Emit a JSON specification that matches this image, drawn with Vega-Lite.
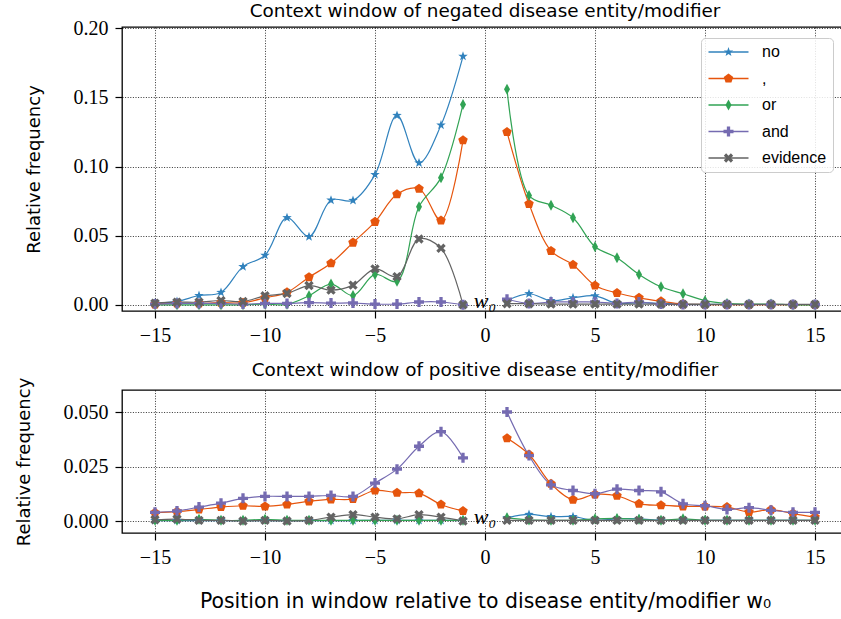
{
  "$schema": "https://vega.github.io/schema/vega-lite/v6.json",
  "padding": {"left": 14, "top": 1, "right": 0, "bottom": 0},
  "background": "white",
  "spacing": 13,
  "resolve": {"legend": {"color": "independent", "shape": "independent", "stroke": "independent"}},
  "config": {
    "view": {"stroke": "black", "strokeWidth": 1.3},
    "axis": {
      "labelFont": "Liberation Serif", "labelFontSize": 20, "labelColor": "black",
      "tickColor": "black", "tickSize": 7, "tickWidth": 1.2, "labelPadding": 7,
      "domain": false, "grid": true, "gridColor": "black", "gridDash": [1, 1.6], "gridWidth": 0.8, "gridOpacity": 1,
      "titleFont": "DejaVu Sans", "titleFontSize": 18, "titleFontWeight": "normal", "titleColor": "black"
    },
    "title": {"font": "DejaVu Sans", "fontSize": 18.4, "fontWeight": "normal", "color": "black", "offset": -1.7}
  },
  "datasets": {
    "neg": [
      {"token": "no", "x": -15, "y": 0.0012}, {"token": "no", "x": -14, "y": 0.0024}, {"token": "no", "x": -13, "y": 0.0067}, {"token": "no", "x": -12, "y": 0.0089}, {"token": "no", "x": -11, "y": 0.0276}, {"token": "no", "x": -10, "y": 0.0358}, {"token": "no", "x": -9, "y": 0.063}, {"token": "no", "x": -8, "y": 0.0493}, {"token": "no", "x": -7, "y": 0.0757}, {"token": "no", "x": -6, "y": 0.0755}, {"token": "no", "x": -5, "y": 0.0942}, {"token": "no", "x": -4, "y": 0.137}, {"token": "no", "x": -3, "y": 0.1026}, {"token": "no", "x": -2, "y": 0.130}, {"token": "no", "x": -1, "y": 0.1798},
      {"token": "no", "x": 1, "y": 0.003}, {"token": "no", "x": 2, "y": 0.008}, {"token": "no", "x": 3, "y": 0.003}, {"token": "no", "x": 4, "y": 0.005}, {"token": "no", "x": 5, "y": 0.0065}, {"token": "no", "x": 6, "y": 0.001}, {"token": "no", "x": 7, "y": 0.0015}, {"token": "no", "x": 8, "y": 0.001}, {"token": "no", "x": 9, "y": 0.0005}, {"token": "no", "x": 10, "y": 0.0003}, {"token": "no", "x": 11, "y": 0.0002}, {"token": "no", "x": 12, "y": 0.0002}, {"token": "no", "x": 13, "y": 0.0002}, {"token": "no", "x": 14, "y": 0.0002}, {"token": "no", "x": 15, "y": 0.0002},
      {"token": ",", "x": -15, "y": 0.0003}, {"token": ",", "x": -14, "y": 0.001}, {"token": ",", "x": -13, "y": 0.001}, {"token": ",", "x": -12, "y": 0.0015}, {"token": ",", "x": -11, "y": 0.0015}, {"token": ",", "x": -10, "y": 0.005}, {"token": ",", "x": -9, "y": 0.009}, {"token": ",", "x": -8, "y": 0.020}, {"token": ",", "x": -7, "y": 0.030}, {"token": ",", "x": -6, "y": 0.045}, {"token": ",", "x": -5, "y": 0.060}, {"token": ",", "x": -4, "y": 0.080}, {"token": ",", "x": -3, "y": 0.084}, {"token": ",", "x": -2, "y": 0.061}, {"token": ",", "x": -1, "y": 0.119},
      {"token": ",", "x": 1, "y": 0.125}, {"token": ",", "x": 2, "y": 0.073}, {"token": ",", "x": 3, "y": 0.039}, {"token": ",", "x": 4, "y": 0.029}, {"token": ",", "x": 5, "y": 0.014}, {"token": ",", "x": 6, "y": 0.0085}, {"token": ",", "x": 7, "y": 0.005}, {"token": ",", "x": 8, "y": 0.0025}, {"token": ",", "x": 9, "y": 0.0005}, {"token": ",", "x": 10, "y": 0.0002}, {"token": ",", "x": 11, "y": 0.0001}, {"token": ",", "x": 12, "y": 0.0001}, {"token": ",", "x": 13, "y": 0.0001}, {"token": ",", "x": 14, "y": 0.0001}, {"token": ",", "x": 15, "y": 0.0001},
      {"token": "or", "x": -15, "y": 0.0}, {"token": "or", "x": -14, "y": 0.0}, {"token": "or", "x": -13, "y": 0.0}, {"token": "or", "x": -12, "y": 0.0}, {"token": "or", "x": -11, "y": 0.0}, {"token": "or", "x": -10, "y": 0.0005}, {"token": "or", "x": -9, "y": 0.0003}, {"token": "or", "x": -8, "y": 0.0065}, {"token": "or", "x": -7, "y": 0.015}, {"token": "or", "x": -6, "y": 0.0067}, {"token": "or", "x": -5, "y": 0.022}, {"token": "or", "x": -4, "y": 0.017}, {"token": "or", "x": -3, "y": 0.071}, {"token": "or", "x": -2, "y": 0.092}, {"token": "or", "x": -1, "y": 0.145},
      {"token": "or", "x": 1, "y": 0.156}, {"token": "or", "x": 2, "y": 0.079}, {"token": "or", "x": 3, "y": 0.072}, {"token": "or", "x": 4, "y": 0.063}, {"token": "or", "x": 5, "y": 0.042}, {"token": "or", "x": 6, "y": 0.034}, {"token": "or", "x": 7, "y": 0.022}, {"token": "or", "x": 8, "y": 0.013}, {"token": "or", "x": 9, "y": 0.008}, {"token": "or", "x": 10, "y": 0.003}, {"token": "or", "x": 11, "y": 0.001}, {"token": "or", "x": 12, "y": 0.0005}, {"token": "or", "x": 13, "y": 0.0005}, {"token": "or", "x": 14, "y": 0.0}, {"token": "or", "x": 15, "y": 0.0},
      {"token": "and", "x": -15, "y": 0.0005}, {"token": "and", "x": -14, "y": 0.001}, {"token": "and", "x": -13, "y": 0.001}, {"token": "and", "x": -12, "y": 0.001}, {"token": "and", "x": -11, "y": 0.0005}, {"token": "and", "x": -10, "y": 0.001}, {"token": "and", "x": -9, "y": 0.001}, {"token": "and", "x": -8, "y": 0.0015}, {"token": "and", "x": -7, "y": 0.0012}, {"token": "and", "x": -6, "y": 0.0013}, {"token": "and", "x": -5, "y": 0.0005}, {"token": "and", "x": -4, "y": 0.0005}, {"token": "and", "x": -3, "y": 0.002}, {"token": "and", "x": -2, "y": 0.002}, {"token": "and", "x": -1, "y": 0.0},
      {"token": "and", "x": 1, "y": 0.004}, {"token": "and", "x": 2, "y": 0.001}, {"token": "and", "x": 3, "y": 0.002}, {"token": "and", "x": 4, "y": 0.002}, {"token": "and", "x": 5, "y": 0.002}, {"token": "and", "x": 6, "y": 0.001}, {"token": "and", "x": 7, "y": 0.002}, {"token": "and", "x": 8, "y": 0.0005}, {"token": "and", "x": 9, "y": 0.0002}, {"token": "and", "x": 10, "y": 0.0002}, {"token": "and", "x": 11, "y": 0.0002}, {"token": "and", "x": 12, "y": 0.0002}, {"token": "and", "x": 13, "y": 0.0002}, {"token": "and", "x": 14, "y": 0.0002}, {"token": "and", "x": 15, "y": 0.0002},
      {"token": "evidence", "x": -15, "y": 0.0012}, {"token": "evidence", "x": -14, "y": 0.0019}, {"token": "evidence", "x": -13, "y": 0.0019}, {"token": "evidence", "x": -12, "y": 0.0031}, {"token": "evidence", "x": -11, "y": 0.0024}, {"token": "evidence", "x": -10, "y": 0.0065}, {"token": "evidence", "x": -9, "y": 0.0082}, {"token": "evidence", "x": -8, "y": 0.0139}, {"token": "evidence", "x": -7, "y": 0.0106}, {"token": "evidence", "x": -6, "y": 0.0142}, {"token": "evidence", "x": -5, "y": 0.026}, {"token": "evidence", "x": -4, "y": 0.0204}, {"token": "evidence", "x": -3, "y": 0.0476}, {"token": "evidence", "x": -2, "y": 0.0409}, {"token": "evidence", "x": -1, "y": 0.0},
      {"token": "evidence", "x": 1, "y": 0.0008}, {"token": "evidence", "x": 2, "y": 0.0008}, {"token": "evidence", "x": 3, "y": 0.0005}, {"token": "evidence", "x": 4, "y": 0.0005}, {"token": "evidence", "x": 5, "y": 0.0005}, {"token": "evidence", "x": 6, "y": 0.0005}, {"token": "evidence", "x": 7, "y": 0.0005}, {"token": "evidence", "x": 8, "y": 0.0005}, {"token": "evidence", "x": 9, "y": 0.0003}, {"token": "evidence", "x": 10, "y": 0.0003}, {"token": "evidence", "x": 11, "y": 0.0003}, {"token": "evidence", "x": 12, "y": 0.0003}, {"token": "evidence", "x": 13, "y": 0.0003}, {"token": "evidence", "x": 14, "y": 0.0003}, {"token": "evidence", "x": 15, "y": 0.0003}
    ],
    "pos": [
      {"token": "no", "x": -15, "y": 0.0002}, {"token": "no", "x": -14, "y": 0.0002}, {"token": "no", "x": -13, "y": 0.0002}, {"token": "no", "x": -12, "y": 0.0002}, {"token": "no", "x": -11, "y": 0.0002}, {"token": "no", "x": -10, "y": 0.0002}, {"token": "no", "x": -9, "y": 0.0002}, {"token": "no", "x": -8, "y": 0.0002}, {"token": "no", "x": -7, "y": 0.0002}, {"token": "no", "x": -6, "y": 0.0002}, {"token": "no", "x": -5, "y": 0.0003}, {"token": "no", "x": -4, "y": 0.0003}, {"token": "no", "x": -3, "y": 0.0003}, {"token": "no", "x": -2, "y": 0.0003}, {"token": "no", "x": -1, "y": 0.0002},
      {"token": "no", "x": 1, "y": 0.0015}, {"token": "no", "x": 2, "y": 0.003}, {"token": "no", "x": 3, "y": 0.002}, {"token": "no", "x": 4, "y": 0.002}, {"token": "no", "x": 5, "y": 0.0003}, {"token": "no", "x": 6, "y": 0.001}, {"token": "no", "x": 7, "y": 0.001}, {"token": "no", "x": 8, "y": 0.0003}, {"token": "no", "x": 9, "y": 0.0003}, {"token": "no", "x": 10, "y": 0.0003}, {"token": "no", "x": 11, "y": 0.0003}, {"token": "no", "x": 12, "y": 0.0003}, {"token": "no", "x": 13, "y": 0.0003}, {"token": "no", "x": 14, "y": 0.0003}, {"token": "no", "x": 15, "y": 0.0003},
      {"token": ",", "x": -15, "y": 0.0038}, {"token": ",", "x": -14, "y": 0.0043}, {"token": ",", "x": -13, "y": 0.0053}, {"token": ",", "x": -12, "y": 0.0064}, {"token": ",", "x": -11, "y": 0.0070}, {"token": ",", "x": -10, "y": 0.0067}, {"token": ",", "x": -9, "y": 0.0076}, {"token": ",", "x": -8, "y": 0.0090}, {"token": ",", "x": -7, "y": 0.0099}, {"token": ",", "x": -6, "y": 0.0101}, {"token": ",", "x": -5, "y": 0.0140}, {"token": ",", "x": -4, "y": 0.0130}, {"token": ",", "x": -3, "y": 0.0127}, {"token": ",", "x": -2, "y": 0.0076}, {"token": ",", "x": -1, "y": 0.0046},
      {"token": ",", "x": 1, "y": 0.0380}, {"token": ",", "x": 2, "y": 0.0305}, {"token": ",", "x": 3, "y": 0.0171}, {"token": ",", "x": 4, "y": 0.0098}, {"token": ",", "x": 5, "y": 0.0122}, {"token": ",", "x": 6, "y": 0.0116}, {"token": ",", "x": 7, "y": 0.0079}, {"token": ",", "x": 8, "y": 0.0072}, {"token": ",", "x": 9, "y": 0.0067}, {"token": ",", "x": 10, "y": 0.0067}, {"token": ",", "x": 11, "y": 0.0064}, {"token": ",", "x": 12, "y": 0.0041}, {"token": ",", "x": 13, "y": 0.0052}, {"token": ",", "x": 14, "y": 0.0034}, {"token": ",", "x": 15, "y": 0.0018},
      {"token": "or", "x": -15, "y": 0.0003}, {"token": "or", "x": -14, "y": 0.0003}, {"token": "or", "x": -13, "y": 0.0008}, {"token": "or", "x": -12, "y": 0.0003}, {"token": "or", "x": -11, "y": 0.0003}, {"token": "or", "x": -10, "y": 0.0008}, {"token": "or", "x": -9, "y": 0.0003}, {"token": "or", "x": -8, "y": 0.0003}, {"token": "or", "x": -7, "y": 0.0003}, {"token": "or", "x": -6, "y": 0.0003}, {"token": "or", "x": -5, "y": 0.0003}, {"token": "or", "x": -4, "y": 0.0003}, {"token": "or", "x": -3, "y": 0.0003}, {"token": "or", "x": -2, "y": 0.0003}, {"token": "or", "x": -1, "y": 0.0003},
      {"token": "or", "x": 1, "y": 0.0015}, {"token": "or", "x": 2, "y": 0.0005}, {"token": "or", "x": 3, "y": 0.0003}, {"token": "or", "x": 4, "y": 0.0003}, {"token": "or", "x": 5, "y": 0.001}, {"token": "or", "x": 6, "y": 0.0012}, {"token": "or", "x": 7, "y": 0.0008}, {"token": "or", "x": 8, "y": 0.0003}, {"token": "or", "x": 9, "y": 0.001}, {"token": "or", "x": 10, "y": 0.0003}, {"token": "or", "x": 11, "y": 0.0003}, {"token": "or", "x": 12, "y": 0.0003}, {"token": "or", "x": 13, "y": 0.0003}, {"token": "or", "x": 14, "y": 0.0003}, {"token": "or", "x": 15, "y": 0.0003},
      {"token": "and", "x": -15, "y": 0.0040}, {"token": "and", "x": -14, "y": 0.0046}, {"token": "and", "x": -13, "y": 0.0064}, {"token": "and", "x": -12, "y": 0.0082}, {"token": "and", "x": -11, "y": 0.0104}, {"token": "and", "x": -10, "y": 0.0113}, {"token": "and", "x": -9, "y": 0.0113}, {"token": "and", "x": -8, "y": 0.0113}, {"token": "and", "x": -7, "y": 0.0117}, {"token": "and", "x": -6, "y": 0.0113}, {"token": "and", "x": -5, "y": 0.0174}, {"token": "and", "x": -4, "y": 0.0238}, {"token": "and", "x": -3, "y": 0.0343}, {"token": "and", "x": -2, "y": 0.0410}, {"token": "and", "x": -1, "y": 0.0290},
      {"token": "and", "x": 1, "y": 0.050}, {"token": "and", "x": 2, "y": 0.030}, {"token": "and", "x": 3, "y": 0.0166}, {"token": "and", "x": 4, "y": 0.0140}, {"token": "and", "x": 5, "y": 0.0125}, {"token": "and", "x": 6, "y": 0.0146}, {"token": "and", "x": 7, "y": 0.0140}, {"token": "and", "x": 8, "y": 0.0134}, {"token": "and", "x": 9, "y": 0.0079}, {"token": "and", "x": 10, "y": 0.0070}, {"token": "and", "x": 11, "y": 0.0053}, {"token": "and", "x": 12, "y": 0.0061}, {"token": "and", "x": 13, "y": 0.0049}, {"token": "and", "x": 14, "y": 0.0040}, {"token": "and", "x": 15, "y": 0.0040},
      {"token": "evidence", "x": -15, "y": 0.0006}, {"token": "evidence", "x": -14, "y": 0.0009}, {"token": "evidence", "x": -13, "y": 0.0003}, {"token": "evidence", "x": -12, "y": 0.0003}, {"token": "evidence", "x": -11, "y": 0.0}, {"token": "evidence", "x": -10, "y": 0.0003}, {"token": "evidence", "x": -9, "y": 0.0}, {"token": "evidence", "x": -8, "y": 0.0003}, {"token": "evidence", "x": -7, "y": 0.0018}, {"token": "evidence", "x": -6, "y": 0.0029}, {"token": "evidence", "x": -5, "y": 0.0018}, {"token": "evidence", "x": -4, "y": 0.001}, {"token": "evidence", "x": -3, "y": 0.0029}, {"token": "evidence", "x": -2, "y": 0.0018}, {"token": "evidence", "x": -1, "y": 0.0},
      {"token": "evidence", "x": 1, "y": 0.0003}, {"token": "evidence", "x": 2, "y": 0.0003}, {"token": "evidence", "x": 3, "y": 0.0003}, {"token": "evidence", "x": 4, "y": 0.0003}, {"token": "evidence", "x": 5, "y": 0.0003}, {"token": "evidence", "x": 6, "y": 0.0003}, {"token": "evidence", "x": 7, "y": 0.0003}, {"token": "evidence", "x": 8, "y": 0.0003}, {"token": "evidence", "x": 9, "y": 0.0003}, {"token": "evidence", "x": 10, "y": 0.0003}, {"token": "evidence", "x": 11, "y": 0.0003}, {"token": "evidence", "x": 12, "y": 0.0003}, {"token": "evidence", "x": 13, "y": 0.0003}, {"token": "evidence", "x": 14, "y": 0.0003}, {"token": "evidence", "x": 15, "y": 0.0003}
    ]
  },
  "vconcat": [
    {
      "width": 726, "height": 284,
      "title": "Context window of negated disease entity/modifier",
      "layer": [
        {
          "data": {"name": "neg"},
          "transform": [{"calculate": "datum.x < 0 ? 'L' : 'R'", "as": "side"}],
          "mark": {"type": "line", "interpolate": "catmull-rom", "strokeWidth": 1.2},
          "encoding": {
            "x": {"field": "x", "type": "quantitative", "scale": {"domain": [-16.5, 16.5], "nice": false, "zero": false}, "axis": {"values": [-15, -10, -5, 0, 5, 10, 15], "title": null}},
            "y": {"field": "y", "type": "quantitative", "scale": {"domain": [-0.0045, 0.201], "nice": false, "zero": false}, "axis": {"values": [0, 0.05, 0.1, 0.15, 0.2], "format": ".2f", "title": "Relative frequency", "titlePadding": 30}},
            "stroke": {"field": "token", "type": "nominal", "sort": ["no", ",", "or", "and", "evidence"], "scale": {"range": ["#3182bd", "#e6550d", "#31a354", "#756bb1", "#636363"]},
              "legend": {"title": null, "orient": "none", "legendX": 579, "legendY": 11, "padding": 6, "strokeColor": "#cccccc", "cornerRadius": 4, "fillColor": "rgba(255,255,255,0.85)", "labelFont": "Liberation Sans", "labelFontSize": 16, "labelColor": "transparent", "symbolType": "M-4,0H4", "symbolSize": 100, "symbolStrokeWidth": 1.3, "symbolOffset": 13.5, "labelOffset": 25.5, "rowPadding": 10.5}},
            "detail": {"field": "side"}
          }
        },
        {
          "data": {"name": "neg"},
          "mark": {"type": "point", "filled": true, "size": 100, "opacity": 1},
          "encoding": {
            "x": {"field": "x", "type": "quantitative"},
            "y": {"field": "y", "type": "quantitative"},
            "color": {"field": "token", "type": "nominal", "scale": {"domain": ["no", ",", "or", "and", "evidence"], "range": ["#3182bd", "#e6550d", "#31a354", "#756bb1", "#636363"]},
              "legend": {"title": null, "orient": "none", "legendX": 579, "legendY": 11, "padding": 6, "labelFont": "Liberation Sans", "labelFontSize": 16, "labelColor": "black", "symbolSize": 100, "symbolOffset": 13.5, "labelOffset": 25.5, "rowPadding": 10.5}},
            "shape": {"field": "token", "type": "nominal", "scale": {"domain": ["no", ",", "or", "and", "evidence"], "range": ["M0,-1L0.235,-0.324L0.951,-0.309L0.38,0.124L0.588,0.809L0,0.4L-0.588,0.809L-0.38,0.124L-0.951,-0.309L-0.235,-0.324Z", "M0,-1L0.951,-0.309L0.588,0.809L-0.588,0.809L-0.951,-0.309Z", "M0,-1.1L0.6,0L0,1.1L-0.6,0Z", "M-0.33,-1H0.33V-0.33H1V0.33H0.33V1H-0.33V0.33H-1V-0.33H-0.33Z", "M0.474,-0.94L0.94,-0.474L0.467,0L0.94,0.474L0.474,0.94L0,0.467L-0.474,0.94L-0.94,0.474L-0.467,0L-0.94,-0.474L-0.474,-0.94L0,-0.467Z"]},
              "legend": {"title": null, "orient": "none", "legendX": 579, "legendY": 11, "padding": 6, "labelFont": "Liberation Sans", "labelFontSize": 16, "labelColor": "black", "symbolSize": 100, "symbolOffset": 13.5, "labelOffset": 25.5, "rowPadding": 10.5}}
          }
        },
        {
          "data": {"values": [{"x": 0, "y": 0}]},
          "mark": {"type": "text", "text": "w₀", "font": "Liberation Serif", "fontStyle": "italic", "fontSize": 22, "dy": -4, "color": "black"},
          "encoding": {
            "x": {"field": "x", "type": "quantitative"},
            "y": {"field": "y", "type": "quantitative"}
          }
        }
      ]
    },
    {
      "width": 726, "height": 143,
      "title": "Context window of positive disease entity/modifier",
      "layer": [
        {
          "data": {"name": "pos"},
          "transform": [{"calculate": "datum.x < 0 ? 'L' : 'R'", "as": "side"}],
          "mark": {"type": "line", "interpolate": "catmull-rom", "strokeWidth": 1.2},
          "encoding": {
            "x": {"field": "x", "type": "quantitative", "scale": {"domain": [-16.5, 16.5], "nice": false, "zero": false}, "axis": {"values": [-15, -10, -5, 0, 5, 10, 15], "title": "Position in window relative to disease entity/modifier w₀", "titlePadding": 24, "titleFontSize": 20.4}},
            "y": {"field": "y", "type": "quantitative", "scale": {"domain": [-0.0055, 0.0601], "nice": false, "zero": false}, "axis": {"values": [0, 0.025, 0.05], "format": ".3f", "title": "Relative frequency", "titlePadding": 30}},
            "stroke": {"field": "token", "type": "nominal", "sort": ["no", ",", "or", "and", "evidence"], "scale": {"range": ["#3182bd", "#e6550d", "#31a354", "#756bb1", "#636363"]}, "legend": null},
            "detail": {"field": "side"}
          }
        },
        {
          "data": {"name": "pos"},
          "mark": {"type": "point", "filled": true, "size": 100, "opacity": 1},
          "encoding": {
            "x": {"field": "x", "type": "quantitative"},
            "y": {"field": "y", "type": "quantitative"},
            "color": {"field": "token", "type": "nominal", "legend": null},
            "shape": {"field": "token", "type": "nominal", "legend": null}
          }
        },
        {
          "data": {"values": [{"x": 0, "y": 0}]},
          "mark": {"type": "text", "text": "w₀", "font": "Liberation Serif", "fontStyle": "italic", "fontSize": 22, "dy": -4, "color": "black"},
          "encoding": {
            "x": {"field": "x", "type": "quantitative"},
            "y": {"field": "y", "type": "quantitative"}
          }
        }
      ]
    }
  ]
}
